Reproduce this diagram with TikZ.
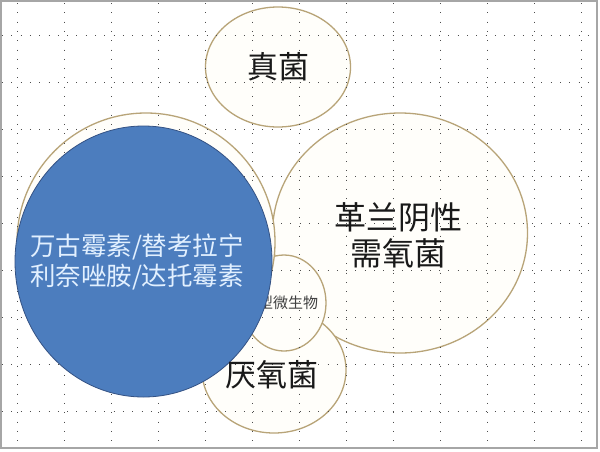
\documentclass[tikz,border=0pt]{standalone}
\usepackage{fontspec}
\newfontfamily\cjk{Noto Sans CJK SC}
\usetikzlibrary{shapes.geometric}

\definecolor{rim}{RGB}{184,164,120}
\definecolor{cream}{RGB}{255,254,250}
\definecolor{blu}{RGB}{76,125,190}
\definecolor{bluedge}{RGB}{52,82,132}
\definecolor{icetext}{RGB}{226,240,255}

\begin{document}
\begin{tikzpicture}[x=1pt, y=-1pt,
        bub/.style={ellipse, draw=rim, line width=1.3pt, fill=cream, inner sep=0pt},
        bub2/.style={ellipse, draw=bluedge, line width=0.8pt, fill=blu, inner sep=0pt},
        dots/.style={black!70, line width=1pt, dash pattern=on 1pt off 8.3pt},
        big/.style={font=\cjk\fontsize{31}{36}\selectfont, text=black!90, align=center},
        ]
      \useasboundingbox (0,0) rectangle (600,451);
      \fill[white] (0,0) rectangle (600,451);

      % bubbles
      \node[bub, minimum width=145, minimum height=120] (fu) at (278,67) {};
      \node[bub, minimum width=255, minimum height=240] (gn) at (400,233) {};
      \node[bub, minimum width=144, minimum height=126] (an) at (274,370) {};
      \node[bub, minimum width=84, minimum height=96] (mi) at (284,303) {};
      \node[bub, minimum width=258, minimum height=258] (sh) at (146,242) {};

      % dotted grid
      \foreach \gx in {17,64,...,581}
        \draw[dots] (\gx,3) -- (\gx,447);
      \foreach \gy in {35,82,...,411}
        \draw[dots] (2,\gy) -- (597,\gy);

      \node[font=\cjk\fontsize{15}{18}\selectfont, text=black!75] (mit) at (288,303) {型微生物};

      \node[bub2, minimum width=257, minimum height=271] (va) at (143.5,261.5) {};

      \node[big] (fut) at (fu.center) {真菌};
      \node[big, font=\cjk\fontsize{32}{36}\selectfont] (gnt) at (398,235) {革兰阴性\\需氧菌};
      \node[big] (ant) at (272,375) {厌氧菌};
      \node[font=\cjk\fontsize{25.5}{30}\selectfont, text=icetext, align=center] (vat) at (137,262) {万古霉素/替考拉宁\\利奈唑胺/达托霉素};

      \draw[black!35, line width=1.5pt] (1,1) rectangle (597,448);
    \end{tikzpicture}
\end{document}
